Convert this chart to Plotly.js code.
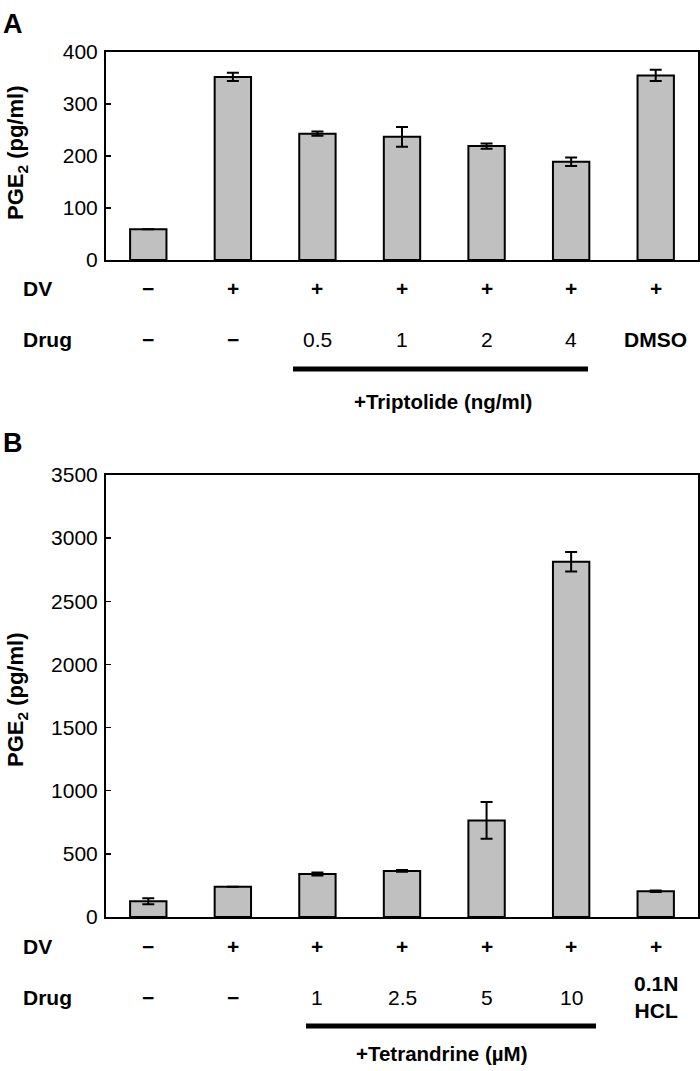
<!DOCTYPE html>
<html>
<head>
<meta charset="utf-8">
<script src="https://cdn.plot.ly/plotly-3.0.1.min.js"></script>
<style>html,body{margin:0;padding:0;background:#fff;}#chart{width:700px;height:1071px;}</style>
</head>
<body>
<div id="chart"></div>
<script>
// ---- data ----
const categories = [0, 1, 2, 3, 4, 5, 6];
const valuesA = [59, 352, 243, 237, 219, 189, 355];
const errorsA = [null, 8, 4, 19, 5, 8, 11];
const valuesB = [125, 240, 340, 365, 765, 2813, 204];
const errorsB = [24, null, 12, 7, 146, 77, 6];
const dvLabelsA = ["−", "+", "+", "+", "+", "+", "+"];
const drugLabelsA = ["−", "−", "0.5", "1", "2", "4", "DMSO"];
const dvLabelsB = ["−", "+", "+", "+", "+", "+", "+"];
const drugLabelsB = ["−", "−", "1", "2.5", "5", "10", "0.1N<br>HCL"];
const yTicksA = [0, 100, 200, 300, 400];
const yTicksB = [0, 500, 1000, 1500, 2000, 2500, 3000, 3500];

const FONT = "Liberation Sans, Arial, Helvetica, sans-serif";
const H = 1071, W = 700;
const py = v => 1 - v / H;   // pixel-from-top -> paper
const px = v => v / W;
const TICK = 21, ROW = 21, TITLE = 22;

function barTrace(vals, errs, xa, ya) {
  return {
    type: 'bar', x: categories, y: vals, xaxis: xa, yaxis: ya,
    width: 0.43,
    marker: {color: '#c0c0c0', line: {color: '#000', width: 2}},
    error_y: {type: 'data', array: errs, visible: true, color: '#000', thickness: 2, width: 6},
    showlegend: false, hoverinfo: 'none'
  };
}

const axisCommon = {
  showgrid: false, zeroline: false, showline: true, linecolor: '#000', linewidth: 2, mirror: true
};

const ann = [];
const isBoldSym = t => !/^[0-9.]+$/.test(t);
function txt(xref, x, yPix, t, size, bold, anchor) {
  ann.push({xref: xref, yref: 'paper', x: x, y: py(yPix), text: t, showarrow: false,
    xanchor: anchor || 'center', yanchor: 'middle',
    font: {family: FONT, size: size, color: '#000', weight: bold ? 'bold' : 'normal'}});
}

// Panel A
txt('paper', px(1), 24, 'A', 27, true, 'left');
ann.push({xref: 'paper', yref: 'paper', x: px(17), y: py(153), text: 'PGE<sub>2</sub> (pg/ml)', textangle: -90, showarrow: false, xanchor: 'center', yanchor: 'middle', font: {family: FONT, size: TITLE, color: '#000', weight: 'bold'}});
txt('paper', px(21), 289, 'DV', ROW, true, 'left');
txt('paper', px(21), 339, 'Drug', ROW, true, 'left');
dvLabelsA.forEach((t, i) => txt('x', categories[i], 289, t, ROW, true));
drugLabelsA.forEach((t, i) => txt('x', categories[i], 339, t, ROW, isBoldSym(t)));
txt('paper', px(443), 401, '+Triptolide (ng/ml)', 20.5, true);

// Panel B
txt('paper', px(1), 443, 'B', 27, true, 'left');
ann.push({xref: 'paper', yref: 'paper', x: px(17), y: py(700), text: 'PGE<sub>2</sub> (pg/ml)', textangle: -90, showarrow: false, xanchor: 'center', yanchor: 'middle', font: {family: FONT, size: TITLE, color: '#000', weight: 'bold'}});
txt('paper', px(21), 946, 'DV', ROW, true, 'left');
txt('paper', px(21), 997, 'Drug', ROW, true, 'left');
dvLabelsB.forEach((t, i) => txt('x2', categories[i], 946, t, ROW, true));
drugLabelsB.forEach((t, i) => txt('x2', categories[i], 997, t, ROW, isBoldSym(t)));
txt('paper', px(441), 1053, '+Tetrandrine (µM)', 20.5, true);

const shapes = [
  {type: 'line', xref: 'paper', yref: 'paper', x0: px(293), x1: px(588), y0: py(369), y1: py(369), line: {color: '#000', width: 5}},
  {type: 'line', xref: 'paper', yref: 'paper', x0: px(306), x1: px(596), y0: py(1026), y1: py(1026), line: {color: '#000', width: 5}}
];

const layout = {
  width: W, height: H,
  margin: {l: 0, r: 0, t: 0, b: 0},
  paper_bgcolor: '#fff', plot_bgcolor: '#fff',
  font: {family: FONT, size: TICK, color: '#000'},
  xaxis: Object.assign({}, axisCommon, {domain: [px(106), px(698)], range: [-0.5, 6.5], showticklabels: false, ticks: '', anchor: 'y'}),
  yaxis: Object.assign({}, axisCommon, {domain: [py(260), py(52)], range: [0, 400], tickvals: yTicksA, ticks: 'inside', ticklen: 5, tickwidth: 1.5, tickcolor: '#000', anchor: 'x', ticklabelstandoff: 2, tickfont: {family: FONT, size: TICK, color: '#000'}}),
  xaxis2: Object.assign({}, axisCommon, {domain: [px(106), px(698)], range: [-0.5, 6.5], showticklabels: false, ticks: '', anchor: 'y2'}),
  yaxis2: Object.assign({}, axisCommon, {domain: [py(917), py(475)], range: [0, 3500], tickvals: yTicksB, ticks: 'inside', ticklen: 5, tickwidth: 1.5, tickcolor: '#000', anchor: 'x2', ticklabelstandoff: 2, tickfont: {family: FONT, size: TICK, color: '#000'}}),
  annotations: ann,
  shapes: shapes,
  bargap: 0.5
};

Plotly.newPlot('chart', [barTrace(valuesA, errorsA, 'x', 'y'), barTrace(valuesB, errorsB, 'x2', 'y2')], layout, {staticPlot: true, displayModeBar: false});
</script>
</body>
</html>
